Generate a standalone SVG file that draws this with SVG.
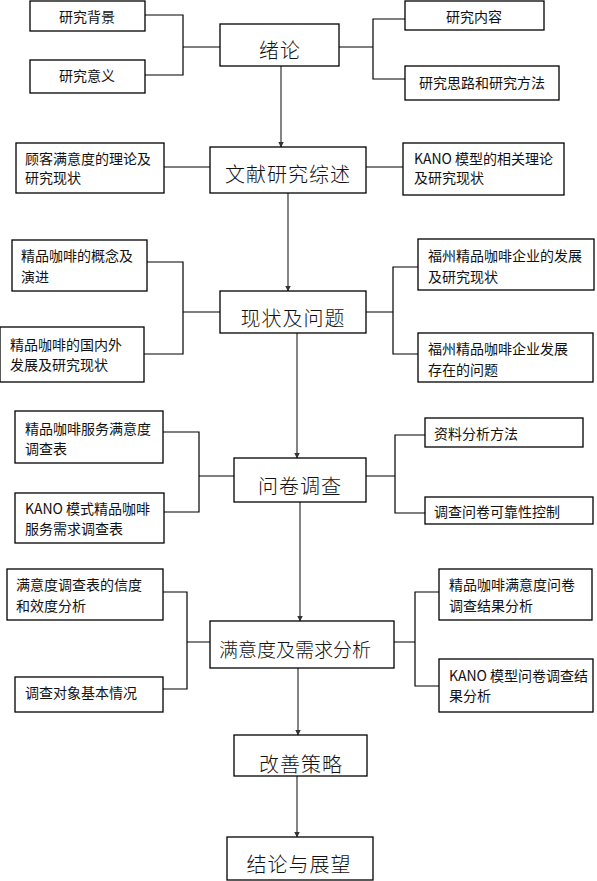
<svg xmlns="http://www.w3.org/2000/svg" width="597" height="881" viewBox="0 0 597 881">
<defs>
<marker id="ah" markerWidth="6" markerHeight="7" refX="5.5" refY="3.5" orient="auto" markerUnits="userSpaceOnUse">
<path d="M0,0.5 L6,3.5 L0,6.5 Z" fill="#333"/>
</marker>
<style>
.box{fill:#fff;stroke:#000;stroke-width:1.3}
.s{font-family:"Noto Sans CJK SC","Liberation Sans",sans-serif;font-size:14px;fill:#111;dominant-baseline:central}
.c{text-anchor:middle}
.t{font-family:"Noto Sans CJK SC","Liberation Sans",sans-serif;font-size:20px;fill:#111;text-anchor:middle;dominant-baseline:central;font-weight:300;letter-spacing:1px}
.ln{fill:none;stroke:#000;stroke-width:1.2}
.ar{fill:none;stroke:#333;stroke-width:1.2;marker-end:url(#ah)}
</style>
</defs>
<rect width="597" height="881" fill="#fff"/>
<g id="connectors">
<path class="ln" d="M145,15 H183 V75 H145 M183,47 H220"/>
<path class="ln" d="M339,47 H373 M405,19 H373 V79 H405"/>
<path class="ln" d="M164,167 H210 M366,167 H403"/>
<path class="ln" d="M147,262 H183 V354 H144 M183,312 H220"/>
<path class="ln" d="M366,312 H393 M418,267 H393 V354 H418"/>
<path class="ln" d="M163,432 H199 V512 H164 M199,476 H234"/>
<path class="ln" d="M366,476 H395 M425,435 H395 V513 H425"/>
<path class="ln" d="M163,592 H187 V689 H163 M187,642 H210"/>
<path class="ln" d="M394,642 H415 M439,592 H415 V686 H439"/>
<path class="ar" d="M281,66 V147"/>
<path class="ar" d="M288,193 V291"/>
<path class="ar" d="M297,333 V458"/>
<path class="ar" d="M300,502 V621"/>
<path class="ar" d="M298,668 V735"/>
<path class="ar" d="M297,776 V837"/>
</g>
<g id="n-xulun"><rect class="box" x="220" y="24" width="119" height="42"/><text class="t" x="280" y="49">绪论</text></g>
<g id="n-wenxian"><rect class="box" x="210" y="147" width="156" height="46"/><text class="t" x="288" y="173">文献研究综述</text></g>
<g id="n-xianzhuang"><rect class="box" x="220" y="291" width="146" height="42"/><text class="t" x="293" y="317">现状及问题</text></g>
<g id="n-wenjuan"><rect class="box" x="234" y="458" width="132" height="44"/><text class="t" x="300" y="485">问卷调查</text></g>
<g id="n-manyi"><rect class="box" x="210" y="621" width="184" height="47"/><text class="t" x="295" y="648" style="letter-spacing:0;font-size:19px">满意度及需求分析</text></g>
<g id="n-gaishan"><rect class="box" x="234" y="735" width="133" height="41"/><text class="t" x="301" y="763">改善策略</text></g>
<g id="n-jielun"><rect class="box" x="227" y="837" width="146" height="43"/><text class="t" x="299" y="863">结论与展望</text></g>

<g id="n-beijing"><rect class="box" x="30" y="1" width="115" height="30"/><text class="s c" x="87" y="16">研究背景</text></g>
<g id="n-yiyi"><rect class="box" x="30" y="60" width="115" height="33"/><text class="s c" x="87" y="75">研究意义</text></g>
<g id="n-neirong"><rect class="box" x="405" y="1" width="139" height="29"/><text class="s c" x="474" y="16">研究内容</text></g>
<g id="n-silu"><rect class="box" x="405" y="66" width="154" height="34"/><text class="s c" x="482" y="82">研究思路和研究方法</text></g>

<g id="n-guke"><rect class="box" x="16" y="143" width="148" height="50"/><text class="s" x="25" y="158">顾客满意度的理论及</text><text class="s" x="25" y="177">研究现状</text></g>
<g id="n-kano1"><rect class="box" x="403" y="143" width="161" height="52"/><text class="s" x="414" y="158">KANO 模型的相关理论</text><text class="s" x="414" y="177">及研究现状</text></g>

<g id="n-gainian"><rect class="box" x="12" y="240" width="135" height="51"/><text class="s" x="21" y="255">精品咖啡的概念及</text><text class="s" x="21" y="276">演进</text></g>
<g id="n-guoneiwai"><rect class="box" x="0" y="327" width="144" height="55"/><text class="s" x="10" y="344">精品咖啡的国内外</text><text class="s" x="10" y="364">发展及研究现状</text></g>
<g id="n-fuzhou1"><rect class="box" x="418" y="239" width="176" height="51"/><text class="s" x="428" y="255">福州精品咖啡企业的发展</text><text class="s" x="428" y="276">及研究现状</text></g>
<g id="n-fuzhou2"><rect class="box" x="418" y="333" width="175" height="49"/><text class="s" x="428" y="348">福州精品咖啡企业发展</text><text class="s" x="428" y="369">存在的问题</text></g>

<g id="n-fuwu"><rect class="box" x="15" y="411" width="148" height="52"/><text class="s" x="25" y="428">精品咖啡服务满意度</text><text class="s" x="25" y="448">调查表</text></g>
<g id="n-kano2"><rect class="box" x="15" y="493" width="149" height="50"/><text class="s" x="25" y="508">KANO 模式精品咖啡</text><text class="s" x="25" y="528">服务需求调查表</text></g>
<g id="n-ziliao"><rect class="box" x="425" y="418" width="158" height="29"/><text class="s" x="434" y="433">资料分析方法</text></g>
<g id="n-kekao"><rect class="box" x="425" y="497" width="168" height="27"/><text class="s" x="434" y="511">调查问卷可靠性控制</text></g>

<g id="n-xindu"><rect class="box" x="7" y="569" width="156" height="51"/><text class="s" x="16" y="584">满意度调查表的信度</text><text class="s" x="16" y="605">和效度分析</text></g>
<g id="n-duixiang"><rect class="box" x="15" y="677" width="148" height="35"/><text class="s" x="25" y="692">调查对象基本情况</text></g>
<g id="n-jieguo1"><rect class="box" x="439" y="569" width="153" height="51"/><text class="s" x="449" y="584">精品咖啡满意度问卷</text><text class="s" x="449" y="605">调查结果分析</text></g>
<g id="n-jieguo2"><rect class="box" x="439" y="659" width="154" height="53"/><text class="s" x="449" y="675">KANO 模型问卷调查结</text><text class="s" x="449" y="695">果分析</text></g>
</svg>
